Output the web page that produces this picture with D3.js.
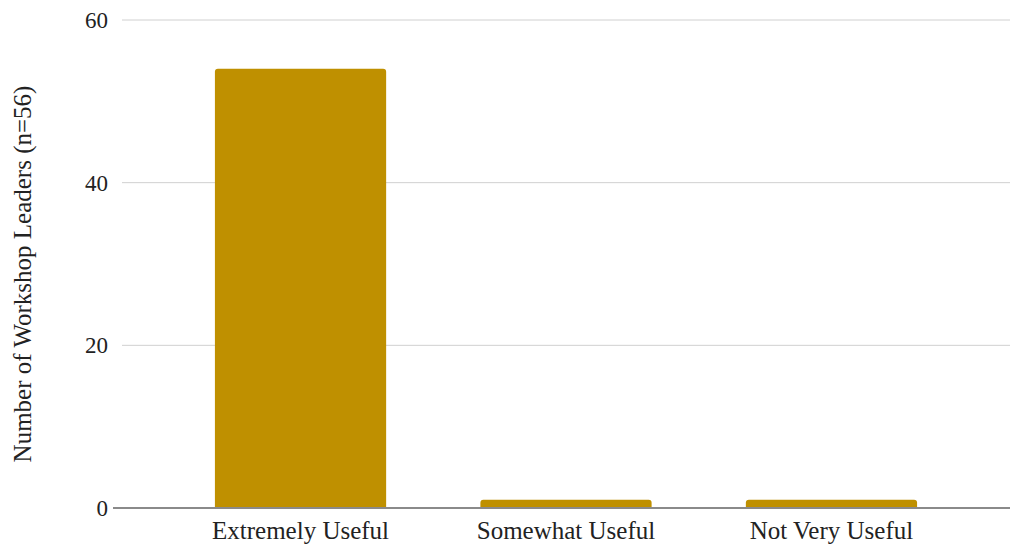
<!DOCTYPE html>
<html>
<head>
<meta charset="utf-8">
<script src="https://cdn.jsdelivr.net/npm/d3@7"></script>
<style>
  html, body { margin: 0; padding: 0; background: #fff; }
  svg { display: block; }
  text { font-family: "Liberation Serif", "Times New Roman", serif; fill: #222; }
</style>
</head>
<body>
<svg id="chart" width="1014" height="548"></svg>
<script>
// Survey responses: how useful workshop leaders found the resource
const categories = ["Extremely Useful", "Somewhat Useful", "Not Very Useful"];
const counts = [54, 1, 1];
const yTicks = [0, 20, 40, 60];

const svg = d3.select("#chart");
const plot = { left: 122, right: 1010, top: 20, bottom: 508 };

const x = d3.scaleBand()
  .domain(categories)
  .range([plot.left, plot.right])
  .paddingInner(0.355)
  .paddingOuter(0.35);

const y = d3.scaleLinear().domain([0, 60]).range([plot.bottom, plot.top]);

// Horizontal gridlines
svg.append("g")
  .selectAll("line")
  .data(yTicks.filter(d => d !== 0))
  .join("line")
  .attr("x1", plot.left).attr("x2", plot.right)
  .attr("y1", d => y(d)).attr("y2", d => y(d))
  .attr("stroke", "#d0d0d0").attr("stroke-width", 1);

// Y tick labels
svg.append("g")
  .selectAll("text")
  .data(yTicks)
  .join("text")
  .attr("x", 108)
  .attr("y", d => y(d))
  .attr("dy", "0.35em")
  .attr("text-anchor", "end")
  .attr("font-size", 23)
  .text(d => d);

// Bars with slightly rounded top corners
const r = 3;
svg.append("g")
  .selectAll("path")
  .data(categories.map((c, i) => ({ c, v: counts[i] })))
  .join("path")
  .attr("fill", "#bf9000")
  .attr("d", d => {
    const x0 = x(d.c), x1 = x0 + x.bandwidth();
    const yt = y(d.v), yb = y(0);
    const rr = Math.min(r, (yb - yt) / 2);
    return `M${x0},${yb}V${yt + rr}Q${x0},${yt} ${x0 + rr},${yt}H${x1 - rr}Q${x1},${yt} ${x1},${yt + rr}V${yb}Z`;
  });

// Baseline
svg.append("line")
  .attr("x1", 113).attr("x2", plot.right)
  .attr("y1", y(0)).attr("y2", y(0))
  .attr("stroke", "#8a8a8a").attr("stroke-width", 2);

// Category labels
svg.append("g")
  .selectAll("text")
  .data(categories)
  .join("text")
  .attr("x", d => x(d) + x.bandwidth() / 2)
  .attr("y", 539)
  .attr("text-anchor", "middle")
  .attr("font-size", 25)
  .text(d => d);

// Y axis title
svg.append("text")
  .attr("transform", `translate(22, ${(85 + 463) / 2}) rotate(-90)`)
  .attr("dy", "0.35em")
  .attr("text-anchor", "middle")
  .attr("font-size", 25)
  .text("Number of Workshop Leaders (n=56)");
</script>
</body>
</html>
